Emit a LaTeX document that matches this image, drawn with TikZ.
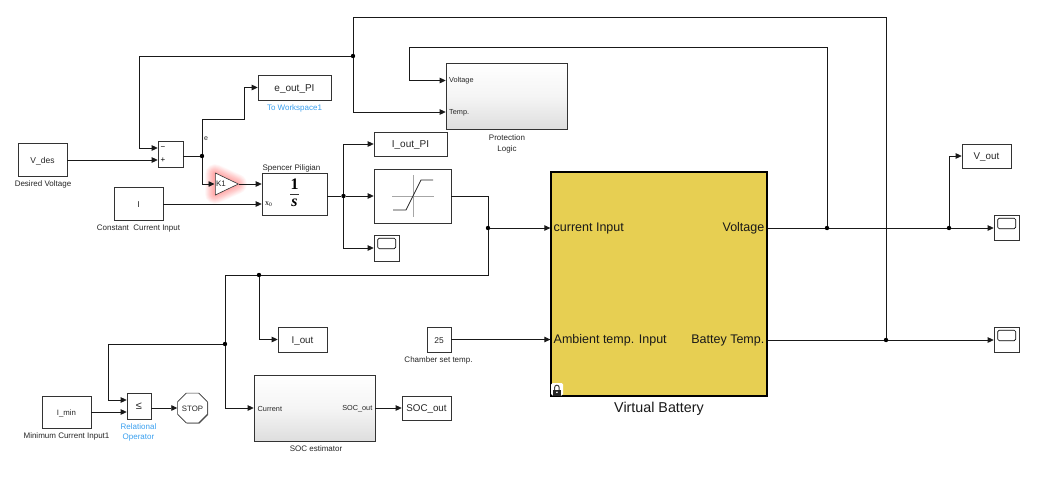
\documentclass[tikz,border=0pt]{standalone}
\usepackage{fontspec}
\setmainfont{Liberation Sans}
\newfontfamily\serifbk{Liberation Serif}
\usetikzlibrary{arrows.meta,shadows,shapes.geometric}
\definecolor{simblue}{HTML}{3AA0F0}
\definecolor{battfill}{HTML}{E7CF52}
\newcommand{\fs}[1]{\fontsize{#1}{#1}\selectfont}
\tikzset{
  wire/.style={line width=0.8pt,draw=black!90},
  flow/.style={wire,-{Triangle[length=6pt,width=5.5pt]}},
  block/.style={draw=black!80,line width=0.6pt,fill=white,inner sep=0pt,text=black!85,
    text height=7pt,text depth=0pt,
    drop shadow={shadow xshift=0.7pt,shadow yshift=-0.7pt,fill=black!55,opacity=1}},
  subsys/.style={block,top color=white,bottom color=black!13,middle color=white!96!black},
  junc/.style={circle,fill=black,inner sep=0pt,minimum size=4.4pt},
  lbl/.style={inner sep=0pt,text=black!85,font=\fs{8},align=center},
  blu/.style={lbl,text=simblue},
  port/.style={inner sep=0pt,text=black!85,font=\fs{7.3}},
  bigport/.style={inner sep=0pt,text=black!90,font=\fs{12.5}},
  screen/.style={draw=black,line width=0.6pt,rounded corners=1.5pt,fill=white},
}
\begin{document}
\begin{tikzpicture}[x=1pt,y=-1pt]
\useasboundingbox (0,0) rectangle (1046,477);
\fill[white] (0,0) rectangle (1046,477);

% red highlight behind the gain
\foreach \w in {1,2,...,20}{
  \draw[red,opacity=0.02,line width=\w pt,line join=round] (215,174) -- (237,184) -- (215,194) -- cycle;
}

% blocks
\node[block,minimum width=49pt,minimum height=33pt,font=\fs{8.5}] (vdes) at (42.5,159.5) {V\_des};
\node[block,minimum width=25pt,minimum height=26pt] (sum) at (170.5,154) {};
\node[block,minimum width=73pt,minimum height=25pt,font=\fs{10}] (eout) at (294.5,87.5) {e\_out\_PI};
\node[block,minimum width=49pt,minimum height=33pt,font=\fs{8.5}] (iconst) at (138.5,203.5) {I};
\node[draw=black!80,line width=0.6pt,fill=white,isosceles triangle,isosceles triangle apex angle=52,
  isosceles triangle stretches,minimum width=22pt,minimum height=23pt,inner sep=0pt,anchor=apex] (gain) at (239,184) {};
\node[block,minimum width=65pt,minimum height=42pt] (integ) at (294.5,194) {};
\node[subsys,minimum width=121pt,minimum height=66pt] (prot) at (506.5,96) {};
\node[block,minimum width=73pt,minimum height=24pt,font=\fs{10}] (ioutpi) at (410.5,144) {I\_out\_PI};
\node[block,minimum width=77pt,minimum height=54pt] (sat) at (412.5,196) {};
\node[block,minimum width=25pt,minimum height=26pt] (scopeA) at (386.5,248) {};
\node[block,draw=black,line width=1.3pt,fill=battfill,minimum width=216pt,minimum height=224pt] (batt) at (659,284) {};
\node[block,minimum width=49pt,minimum height=25pt,font=\fs{9.8}] (iout) at (302.5,339.5) {I\_out};
\node[block,minimum width=24pt,minimum height=25pt,font=\fs{8.4}] (amb) at (439,339.5) {25};
\node[subsys,minimum width=121pt,minimum height=66pt] (soc) at (314.5,408) {};
\node[block,minimum width=49pt,minimum height=24pt,font=\fs{9.8}] (socout) at (426.5,408) {SOC\_out};
\node[block,minimum width=49pt,minimum height=32pt,font=\fs{7.8}] (imin) at (66.5,412) {I\_min};
\node[block,minimum width=24pt,minimum height=26pt,font=\fs{11}] (rel) at (139,406) {≤};
\node[block,regular polygon,regular polygon sides=8,minimum size=31.4pt,font=\fs{7.8}] (stop) at (192.5,408) {STOP};
\node[block,minimum width=49pt,minimum height=24pt,font=\fs{9.8}] (vout) at (986.5,156) {V\_out};
\node[block,minimum width=25pt,minimum height=25pt] (scopeB) at (1006.5,227.5) {};
\node[block,minimum width=25pt,minimum height=25pt] (scopeC) at (1006.5,339.5) {};

% scope screens
\foreach \s in {scopeA,scopeB,scopeC}{
  \draw[screen] ([shift={(4,3.5)}]\s.north west) rectangle ([shift={(22,14)}]\s.north west);
}

% saturation icon
\draw[black!35,line width=0.5pt] (392,196) -- (434,196) (413,175) -- (413,217);
\draw[black!85,line width=0.7pt] (393,210) -- (406,210) -- (421,180) -- (433,180);

% integrator content
\node[inner sep=0pt,font=\serifbk\bfseries\fs{16}] (intone) at (294.5,184) {1};
\draw[black!80,line width=0.8pt] (290,194) -- (299,194);
\node[inner sep=0pt,font=\serifbk\bfseries\itshape\fs{16}] (ints) at (294.5,203) {s};
\node[inner sep=0pt,font=\serifbk\fs{8}] (intx) at (268.5,204) {x\raisebox{-0.8pt}{\fs{5.5}0}};

% gain and sum content
\node[inner sep=0pt,text=black!85,font=\fs{8}] (gaintext) at (221,184) {K1};
\node[inner sep=0pt,font=\fs{8}] (summinus) at (163,148) {−};
\node[inner sep=0pt,font=\fs{8}] (sumplus) at (163,160) {+};

% text labels
\node[lbl] (tvdes) at (43,184.5) {Desired Voltage};
\node[lbl] (ticonst) at (138.5,228.5) {Constant\ \ Current Input};
\node[blu] (teout) at (294.5,108.5) {To Workspace1};
\node[lbl] (tinteg) at (291.5,168) {Spencer Piligian};
\node[lbl,font=\fs{7}] (te) at (206,139) {e};
\node[lbl] (tprot) at (507,143.5) {Protection\\[3pt]Logic};
\node[lbl] (tamb) at (438.5,360) {Chamber set temp.};
\node[lbl] (timin) at (66.5,436) {Minimum Current Input1};
\node[blu] (trel) at (138.5,432.5) {Relational\\[2pt]Operator};
\node[lbl] (tsoc) at (316,449) {SOC estimator};
\node[inner sep=0pt,text=black!90,font=\fs{14.3}] (tbatt) at (659,408.5) {Virtual Battery};

% port labels
\node[port,anchor=west] (pv) at (449,81) {Voltage};
\node[port,anchor=west] (pt) at (449,112.5) {Temp.};
\node[port,anchor=west] (pc) at (257.5,409) {Current};
\node[port,anchor=east] (ps) at (372.5,409) {SOC\_out};
\node[bigport,anchor=west] (bc) at (553.5,228.5) {current Input};
\node[bigport,anchor=west] (ba) at (553.5,340.5) {Ambient temp. Input};
\node[bigport,anchor=east] (bv) at (764.5,228.5) {Voltage};
\node[bigport,anchor=east] (bt) at (764.5,340.5) {Battey Temp.};

% lock badge
\fill[white,rounded corners=1.5pt] (551,383) rectangle (563,395.5);
\draw[black!75,line width=1pt] (554.6,390) -- (554.6,387.5) arc[start angle=180,end angle=360,radius=2.3] -- (559.2,390);
\fill[black!85] (552.8,389.5) rectangle (561,395.5);
\fill[white] (556.9,392.3) circle (0.9);

% junctions
\node[junc] (jtop) at (353,56) {};
\node[junc] (jerr) at (202,156) {};
\node[junc] (jint) at (343.5,196) {};
\node[junc] (jsat) at (488,228) {};
\node[junc] (jfb) at (259,275) {};
\node[junc] (jmin) at (225,344) {};
\node[junc] (jvolt) at (827,228) {};
\node[junc] (jvout) at (949,228) {};
\node[junc] (jtemp) at (886,340) {};

% connectors
\draw[flow] (jtemp) -- (886,17) -- (353,17) -- (jtop) -- (353,112) -- (prot.west |- 0,112);
\draw[flow] (jtop) -- (139,56) |- (sum.west |- 0,148);
\draw[flow] (vdes.east |- 0,160) -- (sum.west |- 0,160);
\draw[wire] (sum.east |- jerr) -- (jerr);
\draw[flow] (jerr) -- (202,119) -- (244,119) |- (eout.west);
\draw[flow] (jerr) |- (214.5,184);
\draw[flow] (gain.apex) -- (integ.west |- gain.apex);
\draw[flow] (iconst.east |- 0,204) -- (integ.west |- 0,204);
\draw[wire] (integ.east |- jint) -- (jint);
\draw[flow] (jint) |- (ioutpi.west);
\draw[flow] (jint) -- (sat.west);
\draw[flow] (jint) |- (scopeA.west);
\draw[wire] (sat.east) -| (jsat);
\draw[flow] (jsat) -- (batt.west |- jsat);
\draw[wire] (jsat) |- (jfb);
\draw[wire] (jfb) -- (225,275) -- (jmin);
\draw[flow] (jfb) |- (iout.west);
\draw[flow] (jmin) |- (soc.west);
\draw[flow] (jmin) -- (108,344) |- (rel.west |- 0,400);
\draw[flow] (imin.east) -- (rel.west |- imin.east);
\draw[flow] (rel.east |- stop.west) -- (stop.west);
\draw[flow] (soc.east) -- (socout.west);
\draw[flow] (amb.east) -- (batt.west |- amb.east);
\draw[wire] (batt.east |- jvolt) -- (jvolt);
\draw[wire] (jvolt) -- (jvout);
\draw[flow] (jvout) -- (scopeB.west |- jvout);
\draw[flow] (jvout) |- (vout.west);
\draw[wire] (batt.east |- jtemp) -- (jtemp);
\draw[flow] (jtemp) -- (scopeC.west |- jtemp);
\draw[flow] (jvolt) -- (827,47) -- (409,47) |- (prot.west |- 0,80.5);
\end{tikzpicture}
\end{document}
